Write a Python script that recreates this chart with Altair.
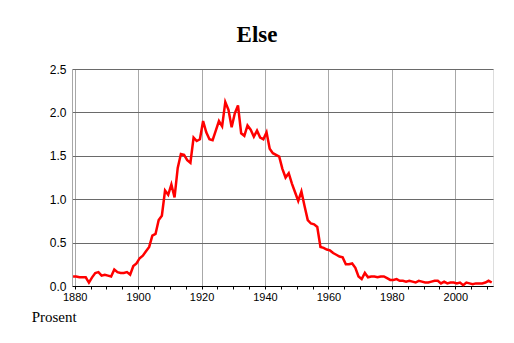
import altair as alt
import pandas as pd

years = list(range(1879, 2012))
values = [
    0.11, 0.11, 0.10, 0.10, 0.10, 0.04, 0.10, 0.15, 0.16, 0.12,   # 1879-1888
    0.13, 0.12, 0.11, 0.19, 0.16, 0.15, 0.15, 0.16, 0.13, 0.23,   # 1889-1898
    0.26, 0.32, 0.35, 0.40, 0.45, 0.58, 0.60, 0.76, 0.81, 1.10,   # 1899-1908
    1.05, 1.17, 1.02, 1.36, 1.52, 1.51, 1.45, 1.42, 1.71, 1.67,   # 1909-1918
    1.69, 1.90, 1.77, 1.69, 1.68, 1.79, 1.90, 1.84, 2.12, 2.03,   # 1919-1928
    1.83, 1.99, 2.08, 1.76, 1.73, 1.85, 1.80, 1.72, 1.79, 1.71,   # 1929-1938
    1.69, 1.77, 1.58, 1.53, 1.51, 1.49, 1.35, 1.25, 1.30, 1.18,   # 1939-1948
    1.08, 0.98, 1.09, 0.92, 0.76, 0.72, 0.71, 0.68, 0.45, 0.44,   # 1949-1958
    0.42, 0.41, 0.38, 0.36, 0.34, 0.33, 0.25, 0.25, 0.26, 0.21,   # 1959-1968
    0.11, 0.08, 0.15, 0.10, 0.11, 0.11, 0.10, 0.11, 0.11, 0.09,   # 1969-1978
    0.07, 0.07, 0.08, 0.06, 0.06, 0.05, 0.06, 0.05, 0.04, 0.06,   # 1979-1988
    0.05, 0.04, 0.04, 0.05, 0.06, 0.06, 0.03, 0.05, 0.03, 0.04,   # 1989-1998
    0.04, 0.03, 0.04, 0.01, 0.04, 0.03, 0.02, 0.03, 0.03, 0.03,   # 1999-2008
    0.04, 0.06, 0.04,                                             # 2009-2011
]
assert len(years) == len(values)

y_ticks = [0.0, 0.5, 1.0, 1.5, 2.0, 2.5]
x_tick_years = list(range(1880, 2015, 5))
title_text = "Else"
unit_text = "Prosent"

df = pd.DataFrame({"year": years, "prosent": values})

W, H = 421, 217
PAD_L, PAD_T = 72, 69

line = alt.Chart(df).transform_calculate(
    t="datetime(datum.year, 6, 1)"
).mark_line(color="#ff0000", strokeWidth=2.5).encode(
    x=alt.X(
        "t:T",
        title=None,
        scale=alt.Scale(domain=[alt.DateTime(year=1879, month=3, date=1),
                                alt.DateTime(year=2011, month=11, date=25)]),
        axis=alt.Axis(
            values=[alt.DateTime(year=y) for y in x_tick_years],
            labelExpr="year(datum.value) % 20 == 0 ? timeFormat(datum.value, '%Y') : ''",
            labelOverlap=False,
            labelFlush=False,
            labelFont="Liberation Sans",
            labelFontSize=11,
            labelColor="#000",
            labelPadding=2,
            tickSize=3,
            tickColor="#000",
            domainColor="#000",
            gridColor="#a8a8a8",
            gridOpacity={"condition": {"test": "year(datum.value) % 20 === 0", "value": 1}, "value": 0},
        ),
    ),
    y=alt.Y(
        "prosent:Q",
        title=None,
        scale=alt.Scale(domain=[0, 2.5], nice=False, zero=True),
        axis=alt.Axis(
            values=y_ticks,
            format=".1f",
            ticks=False,
            labelFont="Liberation Sans",
            labelFontSize=12,
            labelColor="#000",
            labelPadding=6,
            domainColor="#a8a8a8",
            gridColor="#6a6a6a",
        ),
    ),
)

title = alt.Chart(pd.DataFrame({"t": [title_text]})).mark_text(
    font="Liberation Serif", fontSize=23, fontWeight="bold", align="center",
    baseline="alphabetic", color="#000"
).encode(x=alt.value(257 - PAD_L), y=alt.value(41.7 - PAD_T), text="t:N")

unit = alt.Chart(pd.DataFrame({"t": [unit_text]})).mark_text(
    font="Liberation Serif", fontSize=15, align="left",
    baseline="alphabetic", color="#000"
).encode(x=alt.value(31.7 - PAD_L), y=alt.value(321.7 - PAD_T), text="t:N")

chart = alt.layer(line, title, unit).properties(
    width=W, height=H,
    autosize=alt.AutoSizeParams(type="none"),
    padding={"left": PAD_L, "top": PAD_T, "right": 514 - PAD_L - W, "bottom": 343 - PAD_T - H},
).configure_view(stroke=None).configure(background="white")

chart.save("out.html", embed_options={"renderer": "svg", "actions": False})
